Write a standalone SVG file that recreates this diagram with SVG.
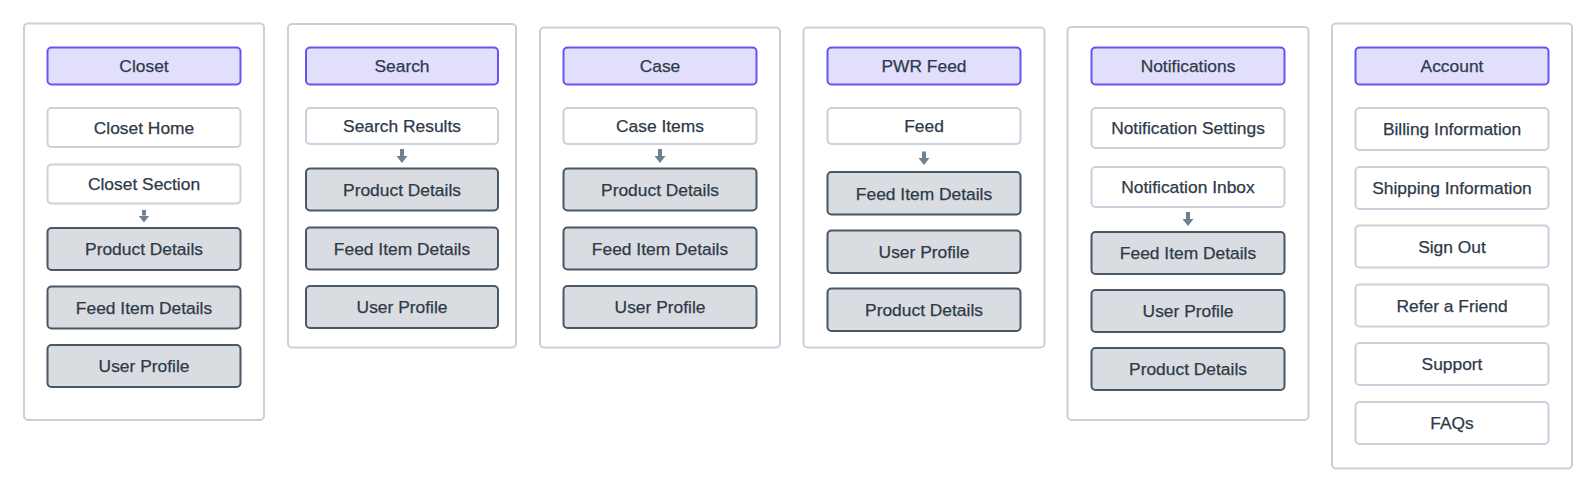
<svg xmlns="http://www.w3.org/2000/svg" width="1596" height="492" viewBox="0 0 1596 492">
<style>
.bg{fill:#ffffff}
.ct{fill:#ffffff;stroke:#c7d1db;stroke-width:2}
.hd{fill:#e1dffc;stroke:#6257f0;stroke-width:2}
.wn{fill:#ffffff;stroke:#c9d2dc;stroke-width:2}
.dn{fill:#d9dde1;stroke:#4a5766;stroke-width:2}
text{font-family:"Liberation Sans",Arial,sans-serif;font-size:17.4px;fill:#2e3a48;stroke:#2e3a48;stroke-width:0.25;text-anchor:middle}
.ar{stroke:#6f8191;stroke-width:4;fill:none}
</style>
<defs>
<marker id="ah" viewBox="0 0 7 11" refX="0" refY="5.5" markerWidth="7" markerHeight="11" markerUnits="userSpaceOnUse" orient="auto">
<path d="M0,0 L7,5.5 L0,11 Z" fill="#6f8191"/>
</marker>
</defs>
<rect class="bg" x="0" y="0" width="1596" height="492"/>

<g id="closet">
<rect class="ct" x="24" y="23.5" width="240" height="396.5" rx="4"/>
<g id="closet-header"><rect class="hd" x="47.5" y="47.5" width="193" height="37" rx="4"/><text x="144" y="72.2">Closet</text></g>
<g id="closet-home"><rect class="wn" x="47.5" y="108" width="193" height="39" rx="4"/><text x="144" y="133.8">Closet Home</text></g>
<g id="closet-section"><rect class="wn" x="47.5" y="164.5" width="193" height="39" rx="4"/><text x="144" y="190.3">Closet Section</text></g>
<g id="closet-product"><rect class="dn" x="47.5" y="228" width="193" height="42" rx="4"/><text x="144" y="255.3">Product Details</text></g>
<g id="closet-feeditem"><rect class="dn" x="47.5" y="286.5" width="193" height="42" rx="4"/><text x="144" y="313.8">Feed Item Details</text></g>
<g id="closet-user"><rect class="dn" x="47.5" y="345" width="193" height="42" rx="4"/><text x="144" y="372.3">User Profile</text></g>
</g>

<g id="search">
<rect class="ct" x="288" y="24" width="228" height="323.5" rx="4"/>
<g id="search-header"><rect class="hd" x="306" y="47.5" width="192" height="37" rx="4"/><text x="402" y="72.2">Search</text></g>
<g id="search-results"><rect class="wn" x="306" y="108" width="192" height="36" rx="4"/><text x="402" y="132.3">Search Results</text></g>
<g id="search-product"><rect class="dn" x="306" y="168.5" width="192" height="42" rx="4"/><text x="402" y="195.8">Product Details</text></g>
<g id="search-feeditem"><rect class="dn" x="306" y="227.5" width="192" height="42" rx="4"/><text x="402" y="254.8">Feed Item Details</text></g>
<g id="search-user"><rect class="dn" x="306" y="286" width="192" height="42" rx="4"/><text x="402" y="313.3">User Profile</text></g>
</g>

<g id="case">
<rect class="ct" x="540" y="27.5" width="240" height="320" rx="4"/>
<g id="case-header"><rect class="hd" x="563.5" y="47.5" width="193" height="37" rx="4"/><text x="660" y="72.2">Case</text></g>
<g id="case-items"><rect class="wn" x="563.5" y="108" width="193" height="36" rx="4"/><text x="660" y="132.3">Case Items</text></g>
<g id="case-product"><rect class="dn" x="563.5" y="168.5" width="193" height="42" rx="4"/><text x="660" y="195.8">Product Details</text></g>
<g id="case-feeditem"><rect class="dn" x="563.5" y="227.5" width="193" height="42" rx="4"/><text x="660" y="254.8">Feed Item Details</text></g>
<g id="case-user"><rect class="dn" x="563.5" y="286" width="193" height="42" rx="4"/><text x="660" y="313.3">User Profile</text></g>
</g>

<g id="pwrfeed">
<rect class="ct" x="803.5" y="27.5" width="241" height="320" rx="4"/>
<g id="pwr-header"><rect class="hd" x="827.5" y="47.5" width="193" height="37" rx="4"/><text x="924" y="72.2">PWR Feed</text></g>
<g id="pwr-feed"><rect class="wn" x="827.5" y="108" width="193" height="36" rx="4"/><text x="924" y="132.3">Feed</text></g>
<g id="pwr-feeditem"><rect class="dn" x="827.5" y="172" width="193" height="42.5" rx="4"/><text x="924" y="199.6">Feed Item Details</text></g>
<g id="pwr-user"><rect class="dn" x="827.5" y="230.5" width="193" height="42.5" rx="4"/><text x="924" y="258.1">User Profile</text></g>
<g id="pwr-product"><rect class="dn" x="827.5" y="288.5" width="193" height="42.5" rx="4"/><text x="924" y="316.1">Product Details</text></g>
</g>

<g id="notifications">
<rect class="ct" x="1067.5" y="27" width="241" height="393" rx="4"/>
<g id="notif-header"><rect class="hd" x="1091.5" y="47.5" width="193" height="37" rx="4"/><text x="1188" y="72.2">Notifications</text></g>
<g id="notif-settings"><rect class="wn" x="1091.5" y="108" width="193" height="40" rx="4"/><text x="1188" y="134.3">Notification Settings</text></g>
<g id="notif-inbox"><rect class="wn" x="1091.5" y="167" width="193" height="40" rx="4"/><text x="1188" y="193.3">Notification Inbox</text></g>
<g id="notif-feeditem"><rect class="dn" x="1091.5" y="232" width="193" height="42" rx="4"/><text x="1188" y="259.3">Feed Item Details</text></g>
<g id="notif-user"><rect class="dn" x="1091.5" y="290" width="193" height="42" rx="4"/><text x="1188" y="317.3">User Profile</text></g>
<g id="notif-product"><rect class="dn" x="1091.5" y="348" width="193" height="42" rx="4"/><text x="1188" y="375.3">Product Details</text></g>
</g>

<g id="account">
<rect class="ct" x="1332" y="23.5" width="240" height="445" rx="4"/>
<g id="account-header"><rect class="hd" x="1355.5" y="47.5" width="193" height="37" rx="4"/><text x="1452" y="72.2">Account</text></g>
<g id="billing"><rect class="wn" x="1355.5" y="108" width="193" height="42" rx="4"/><text x="1452" y="135.3">Billing Information</text></g>
<g id="shipping"><rect class="wn" x="1355.5" y="167" width="193" height="42" rx="4"/><text x="1452" y="194.3">Shipping Information</text></g>
<g id="signout"><rect class="wn" x="1355.5" y="225.5" width="193" height="42" rx="4"/><text x="1452" y="252.8">Sign Out</text></g>
<g id="refer"><rect class="wn" x="1355.5" y="284.5" width="193" height="42" rx="4"/><text x="1452" y="311.8">Refer a Friend</text></g>
<g id="support"><rect class="wn" x="1355.5" y="343" width="193" height="42" rx="4"/><text x="1452" y="370.3">Support</text></g>
<g id="faqs"><rect class="wn" x="1355.5" y="402" width="193" height="42" rx="4"/><text x="1452" y="429.3">FAQs</text></g>
</g>

<g id="connectors">
<path class="ar" d="M144,210 L144,215.5" marker-end="url(#ah)"/>
<path class="ar" d="M402,149 L402,156" marker-end="url(#ah)"/>
<path class="ar" d="M660,149 L660,156" marker-end="url(#ah)"/>
<path class="ar" d="M924,151.5 L924,158" marker-end="url(#ah)"/>
<path class="ar" d="M1188,212 L1188,219" marker-end="url(#ah)"/>
</g>
</svg>
